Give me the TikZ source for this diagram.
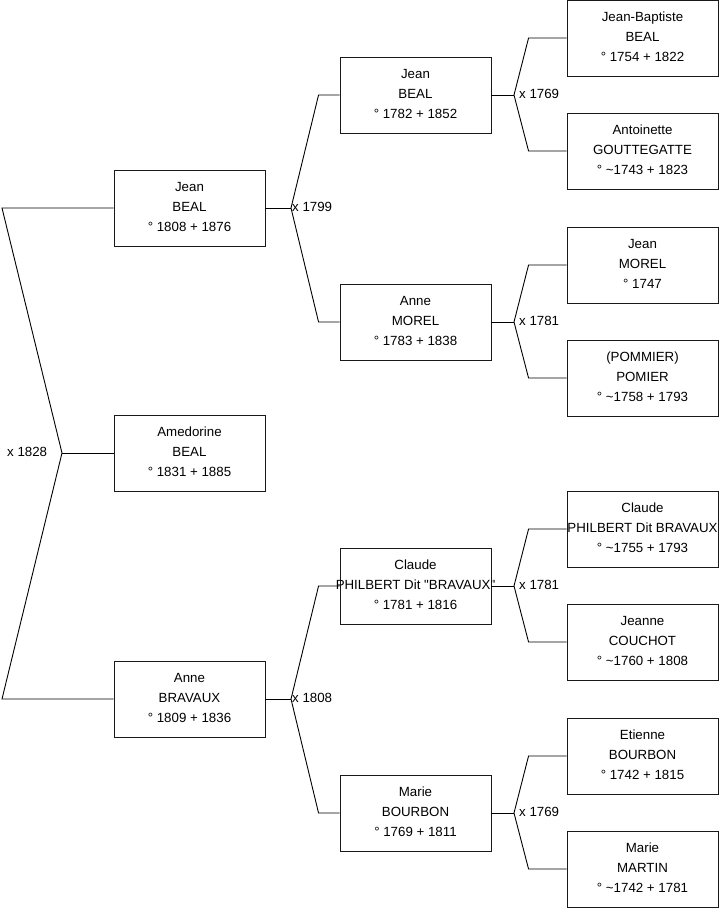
\documentclass[tikz,border=0pt]{standalone}
\usepackage{fontspec}
\setmainfont{Liberation Sans}[Ligatures=TeXOff]
\newcommand\persnode[3]{\node[pbox] (#1) at #2 {}; \node[ptext] (#1-t) at (#1.center) {#3};}
\begin{document}
\begin{tikzpicture}[x=1pt,y=-1pt,
 pbox/.style={draw=black!90, line width=0.9pt, minimum width=151pt, minimum height=76pt, inner sep=0pt},
 ptext/.style={font=\fontsize{13.3}{20}\selectfont, align=center, inner sep=0pt, yshift=1.5pt},
 link/.style={draw=black, line width=0.9pt},
 mlabel/.style={font=\fontsize{13.3}{16}\selectfont, anchor=west, inner sep=0pt, yshift=1pt}]
\useasboundingbox[fill=white] (0,0) rectangle (719,908);

% generation 1
\persnode{a1}{(189.5,208)}{Jean\\BEAL\\° 1808 + 1876}
\persnode{a2}{(189.5,453)}{Amedorine\\BEAL\\° 1831 + 1885}
\persnode{a3}{(189.5,699)}{Anne\\BRAVAUX\\° 1809 + 1836}
% generation 2
\persnode{b1}{(415.5,95)}{Jean\\BEAL\\° 1782 + 1852}
\persnode{b2}{(415.5,322)}{Anne\\MOREL\\° 1783 + 1838}
\persnode{b3}{(415.5,586)}{Claude\\PHILBERT Dit "BRAVAUX"\\° 1781 + 1816}
\persnode{b4}{(415.5,813)}{Marie\\BOURBON\\° 1769 + 1811}
% generation 3
\persnode{c1}{(642.5,38)}{Jean-Baptiste\\BEAL\\° 1754 + 1822}
\persnode{c2}{(642.5,151)}{Antoinette\\GOUTTEGATTE\\° \textasciitilde1743 + 1823}
\persnode{c3}{(642.5,265)}{Jean\\MOREL\\° 1747}
\persnode{c4}{(642.5,378)}{(POMMIER)\\POMIER\\° \textasciitilde1758 + 1793}
\persnode{c5}{(642.5,529)}{Claude\\PHILBERT Dit BRAVAUX\\° \textasciitilde1755 + 1793}
\persnode{c6}{(642.5,642)}{Jeanne\\COUCHOT\\° \textasciitilde1760 + 1808}
\persnode{c7}{(642.5,756)}{Etienne\\BOURBON\\° 1742 + 1815}
\persnode{c8}{(642.5,869)}{Marie\\MARTIN\\° \textasciitilde1742 + 1781}

% leftmost fork
\coordinate (m0) at (62,453);
\coordinate (l1) at (2,208);
\coordinate (l2) at (2,699);
\draw[link] (a1.west) -- (l1) -- (m0) -- (l2) -- (a3.west);
\draw[link] (m0) -- (a2.west);
\node[mlabel] (lb0) at (7,453) {x 1828};

% generation 1 -> 2
\coordinate (m1) at (291,208);
\coordinate (m2) at (291,699);
\draw[link] (a1.east) -- (m1);
\draw[link] (b1.west) -- ([xshift=-21pt]b1.west) -- (m1) -- ([xshift=-21pt]b2.west) -- (b2.west);
\draw[link] (a3.east) -- (m2);
\draw[link] (b3.west) -- ([xshift=-21pt]b3.west) -- (m2) -- ([xshift=-21pt]b4.west) -- (b4.west);
\node[mlabel] (lb1) at ([xshift=1pt]m1) {x 1799};
\node[mlabel] (lb2) at ([xshift=1pt]m2) {x 1808};

% generation 2 -> 3
\coordinate (n1) at (514,95);
\coordinate (n2) at (514,322);
\coordinate (n3) at (514,586);
\coordinate (n4) at (514,813);
\draw[link] (b1.east) -- (n1);
\draw[link] (c1.west) -- ([xshift=-38pt]c1.west) -- (n1) -- ([xshift=-38pt]c2.west) -- (c2.west);
\draw[link] (b2.east) -- (n2);
\draw[link] (c3.west) -- ([xshift=-38pt]c3.west) -- (n2) -- ([xshift=-38pt]c4.west) -- (c4.west);
\draw[link] (b3.east) -- (n3);
\draw[link] (c5.west) -- ([xshift=-38pt]c5.west) -- (n3) -- ([xshift=-38pt]c6.west) -- (c6.west);
\draw[link] (b4.east) -- (n4);
\draw[link] (c7.west) -- ([xshift=-38pt]c7.west) -- (n4) -- ([xshift=-38pt]c8.west) -- (c8.west);
\node[mlabel] (lb3) at ([xshift=5pt]n1) {x 1769};
\node[mlabel] (lb4) at ([xshift=5pt]n2) {x 1781};
\node[mlabel] (lb5) at ([xshift=5pt]n3) {x 1781};
\node[mlabel] (lb6) at ([xshift=5pt]n4) {x 1769};
\end{tikzpicture}
\end{document}
